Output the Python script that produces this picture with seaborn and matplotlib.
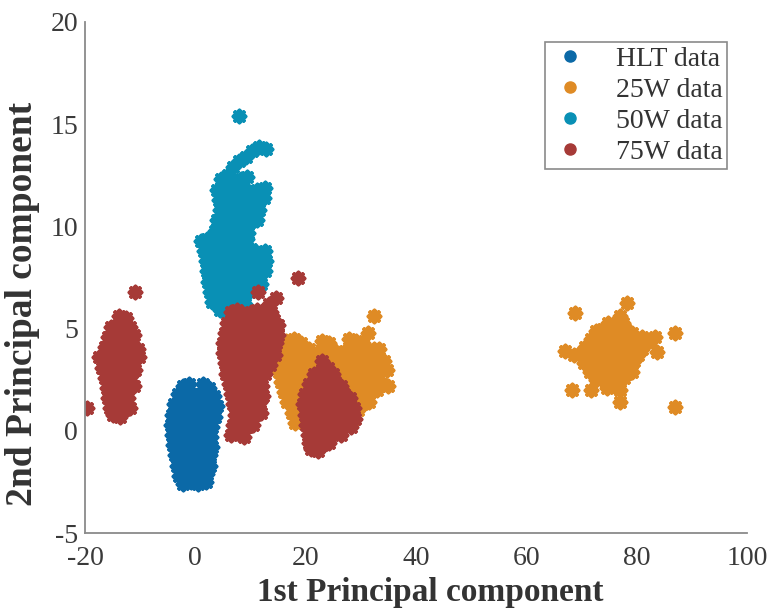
import matplotlib
matplotlib.use("Agg")
import matplotlib.pyplot as plt
from matplotlib.lines import Line2D
import numpy as np
import pandas as pd
import seaborn as sns

# ---- Principal component scores per operating condition ----
hlt_x = [-2.3, -1.2, 1.4, 2.5,
         -3.2, -1.8, -0.5, 0.8, 2.0, 3.4,
         -3.8, -2.5, -1.0, 0.3, 1.6, 2.9, 3.9,
         -4.2, -2.9, -1.6, -0.2, 1.1, 2.4, 3.5,
         -4.4, -3.0, -1.8, -0.6, 0.7, 1.9, 3.0,
         -4.3, -3.1, -1.9, -0.7, 0.6, 1.8, 2.8,
         -4.0, -2.8, -1.5, -0.3, 0.9, 2.1, 3.0,
         -3.6, -2.4, -1.1, 0.2, 1.4, 2.6,
         -3.3, -2.0, -0.7, 0.6, 1.8, 2.7,
         -3.0, -1.7, -0.4, 0.9, 2.1,
         -2.2, -0.8, 0.5, 1.9]
hlt_y = [2.2, 2.3, 2.3, 2.1,
         1.8, 1.9, 1.7, 1.8, 1.9, 1.7,
         1.3, 1.4, 1.2, 1.3, 1.4, 1.3, 1.2,
         0.8, 0.9, 0.7, 0.8, 0.9, 0.8, 0.7,
         0.3, 0.4, 0.2, 0.3, 0.4, 0.3, 0.2,
         -0.2, -0.1, -0.3, -0.2, -0.1, -0.2, -0.3,
         -0.7, -0.6, -0.8, -0.7, -0.6, -0.7, -0.8,
         -1.2, -1.1, -1.3, -1.2, -1.1, -1.2,
         -1.7, -1.6, -1.8, -1.7, -1.6, -1.7,
         -2.2, -2.1, -2.3, -2.2, -2.1,
         -2.6, -2.5, -2.6, -2.5]

w25_x = [32.3, 31.3, 33.2,
         16.5, 17.8, 19.2, 23.0, 24.2, 27.8, 29.2, 30.4,
         15.4, 16.7, 18.0, 19.3, 20.6, 22.0, 23.3, 24.6, 25.9, 27.2, 28.5, 29.8, 31.1, 32.3,
         14.8, 16.1, 17.4, 18.7, 20.0, 21.3, 22.6, 23.9, 25.2, 26.5, 27.8, 29.1, 30.4, 31.7, 33.0, 34.2,
         15.1, 16.4, 17.7, 19.0, 20.3, 21.6, 22.9, 24.2, 25.5, 26.8, 28.1, 29.4, 30.7, 32.0, 33.3, 34.8,
         15.6, 16.9, 18.2, 19.5, 20.8, 22.1, 23.4, 24.7, 26.0, 27.3, 28.6, 29.9, 31.2, 32.5, 33.8, 35.0,
         16.1, 17.4, 18.7, 20.0, 21.3, 22.6, 23.9, 25.2, 26.5, 27.8, 29.1, 30.4, 31.7, 33.0,
         16.7, 18.0, 19.3, 20.6, 25.0, 26.3, 27.6, 28.9, 30.2, 31.4,
         17.5, 18.8, 26.8, 28.1, 29.4,
         18.0, 28.4,
         77.0, 74.8, 76.2, 77.6,
         72.6, 73.9, 75.2, 76.5, 77.8, 79.1,
         71.8, 73.1, 74.4, 75.7, 77.0, 78.3, 79.6, 80.9, 82.2, 83.4,
         70.6, 71.9, 73.2, 74.5, 75.8, 77.1, 78.4, 79.7, 81.0,
         67.0, 68.6, 70.0, 71.3, 72.6, 73.9, 75.2, 76.5, 77.8, 79.1, 80.3,
         70.4, 71.7, 73.0, 74.3, 75.6, 76.9, 78.2, 79.5,
         71.5, 72.8, 74.1, 75.4, 76.7, 78.0, 79.2,
         72.6, 73.9, 75.2, 76.5, 77.7,
         74.6, 75.9, 77.0,
         68.8, 78.2, 86.9, 86.9, 68.2, 71.8, 76.9, 83.6]
w25_y = [5.6, 4.8, 4.0,
         4.4, 4.5, 4.3, 4.4, 4.3, 4.5, 4.4, 4.3,
         3.9, 4.0, 3.8, 3.9, 4.0, 3.8, 3.9, 4.0, 3.8, 3.9, 4.0, 3.8, 3.9, 4.0,
         3.4, 3.5, 3.3, 3.4, 3.5, 3.3, 3.4, 3.5, 3.3, 3.4, 3.5, 3.3, 3.4, 3.5, 3.3, 3.4,
         2.9, 3.0, 2.8, 2.9, 3.0, 2.8, 2.9, 3.0, 2.8, 2.9, 3.0, 2.8, 2.9, 3.0, 2.8, 3.0,
         2.4, 2.5, 2.3, 2.4, 2.5, 2.3, 2.4, 2.5, 2.3, 2.4, 2.5, 2.3, 2.4, 2.5, 2.3, 2.2,
         1.9, 2.0, 1.8, 1.9, 2.0, 1.8, 1.9, 2.0, 1.8, 1.9, 2.0, 1.8, 1.9, 2.0,
         1.4, 1.5, 1.3, 1.4, 1.5, 1.3, 1.4, 1.5, 1.3, 1.4,
         0.9, 1.0, 0.9, 0.8, 1.0,
         0.4, 0.5,
         5.6, 5.3, 5.2, 5.3,
         4.9, 5.0, 4.8, 4.9, 5.0, 4.8,
         4.5, 4.6, 4.4, 4.5, 4.6, 4.4, 4.5, 4.6, 4.4, 4.6,
         4.1, 4.2, 4.0, 4.1, 4.2, 4.0, 4.1, 4.2, 4.0,
         3.9, 3.7, 3.8, 3.6, 3.7, 3.8, 3.6, 3.7, 3.8, 3.6, 3.7,
         3.3, 3.4, 3.2, 3.3, 3.4, 3.2, 3.3, 3.4,
         2.9, 3.0, 2.8, 2.9, 3.0, 2.8, 2.9,
         2.5, 2.6, 2.4, 2.5, 2.6,
         2.1, 2.2, 2.0,
         5.75, 6.25, 4.8, 1.15, 2.0, 2.0, 1.4, 3.85]

w50_x = [7.9,
         12.8, 11.6, 10.3, 9.2, 8.0, 6.9, 5.9,
         4.6, 5.8, 7.0, 8.2, 9.4,
         3.9, 5.1, 6.3, 7.5, 8.7, 9.9, 11.1, 12.6,
         4.2, 5.4, 6.6, 7.8, 9.0, 10.2, 11.4, 12.4,
         4.4, 5.6, 6.8, 8.0, 9.2, 10.4, 11.6,
         3.9, 5.1, 6.3, 7.5, 8.7, 9.9, 11.2,
         3.5, 4.7, 5.9, 7.1, 8.3, 9.5,
         1.0, 2.2, 3.4, 4.6, 5.8, 7.0, 8.2, 9.4,
         1.6, 2.8, 4.0, 5.2, 6.4, 7.6, 8.8, 10.0, 11.3, 12.6,
         1.9, 3.1, 4.3, 5.5, 6.7, 7.9, 9.1, 10.3, 11.6, 12.8,
         2.1, 3.3, 4.5, 5.7, 6.9, 8.1, 9.3, 10.5, 11.7, 12.6,
         2.3, 3.5, 4.7, 5.9, 7.1, 8.3, 9.5, 10.7, 11.9,
         2.6, 3.8, 5.0, 6.2, 7.4, 8.6, 9.8,
         3.0, 4.2, 5.4, 6.6, 7.8, 9.0,
         4.5, 5.7, 6.9]
w50_y = [15.4,
         13.8, 13.9, 13.7, 13.4, 13.2, 12.9, 12.5,
         12.3, 12.4, 12.2, 12.3, 12.4,
         11.8, 11.9, 11.7, 11.8, 11.9, 11.7, 11.8, 11.9,
         11.3, 11.4, 11.2, 11.3, 11.4, 11.2, 11.3, 11.4,
         10.8, 10.9, 10.7, 10.8, 10.9, 10.7, 10.8,
         10.3, 10.4, 10.2, 10.3, 10.4, 10.2, 10.3,
         9.8, 9.9, 9.7, 9.8, 9.9, 9.7,
         9.3, 9.4, 9.2, 9.3, 9.4, 9.2, 9.3, 9.4,
         8.8, 8.9, 8.7, 8.8, 8.9, 8.7, 8.8, 8.9, 8.7, 8.8,
         8.3, 8.4, 8.2, 8.3, 8.4, 8.2, 8.3, 8.4, 8.2, 8.3,
         7.8, 7.9, 7.7, 7.8, 7.9, 7.7, 7.8, 7.9, 7.7, 7.8,
         7.3, 7.4, 7.2, 7.3, 7.4, 7.2, 7.3, 7.4, 7.2,
         6.8, 6.9, 6.7, 6.8, 6.9, 6.7, 6.8,
         6.3, 6.4, 6.2, 6.3, 6.4, 6.2,
         5.9, 5.8, 5.9]

w75_x = [-10.9, -19.6,
         -13.8, -12.6,
         -15.2, -14.0, -12.8, -11.8,
         -15.8, -14.6, -13.4, -12.2, -11.2,
         -16.3, -15.1, -13.9, -12.7, -11.5, -10.4,
         -17.4, -16.2, -15.0, -13.8, -12.6, -11.4, -10.2,
         -16.9, -15.7, -14.5, -13.3, -12.1, -10.9,
         -16.4, -15.2, -14.0, -12.8, -11.6,
         -16.0, -14.8, -13.6, -12.4, -11.2,
         -15.8, -14.6, -13.4, -12.2,
         -15.4, -14.2, -12.9, -11.9,
         -14.9, -13.6,
         18.6, 11.3, 14.6, 13.3,
         6.4, 7.6, 8.8, 10.0, 11.2, 12.4, 13.8,
         5.7, 6.9, 8.1, 9.3, 10.5, 11.7, 12.9, 14.2, 15.0,
         5.3, 6.5, 7.7, 8.9, 10.1, 11.3, 12.5, 13.7, 14.9,
         5.1, 6.3, 7.5, 8.7, 9.9, 11.1, 12.3, 13.4, 14.6,
         5.0, 6.2, 7.4, 8.6, 9.8, 11.0, 12.2, 13.5, 14.4,
         5.3, 6.5, 7.7, 8.9, 10.1, 11.3, 12.5, 13.6,
         5.6, 6.8, 8.0, 9.2, 10.4, 11.6, 12.6,
         6.1, 7.3, 8.5, 9.7, 10.9, 12.1,
         6.4, 7.6, 8.8, 10.0, 11.2, 12.2,
         6.9, 8.1, 9.3, 10.5, 11.7,
         7.2, 8.4, 9.6, 10.8, 11.9,
         6.9, 8.1, 9.3, 10.5,
         6.4, 7.6, 8.8,
         22.9, 24.0,
         21.5, 22.7, 23.9, 25.0,
         20.6, 21.8, 23.0, 24.2, 25.4, 26.4,
         19.8, 21.0, 22.2, 23.4, 24.6, 25.8, 27.0, 28.0,
         19.5, 20.7, 21.9, 23.1, 24.3, 25.5, 26.7, 27.9, 28.8,
         19.8, 21.0, 22.2, 23.4, 24.6, 25.8, 27.0, 28.2, 29.0,
         20.1, 21.3, 22.5, 23.7, 24.9, 26.1, 27.3, 28.3,
         20.4, 21.6, 22.8, 24.0, 25.2, 26.4,
         20.6, 21.8, 23.0, 24.2,
         21.0, 22.3]
w75_y = [6.8, 1.1,
         5.6, 5.5,
         5.1, 5.2, 5.0, 5.1,
         4.6, 4.7, 4.5, 4.6, 4.7,
         4.1, 4.2, 4.0, 4.1, 4.2, 4.0,
         3.6, 3.7, 3.5, 3.6, 3.7, 3.5, 3.6,
         3.1, 3.2, 3.0, 3.1, 3.2, 3.0,
         2.6, 2.7, 2.5, 2.6, 2.7,
         2.1, 2.2, 2.0, 2.1, 2.2,
         1.6, 1.7, 1.5, 1.6,
         1.1, 1.2, 1.0, 1.1,
         0.8, 0.7,
         7.5, 6.8, 6.5, 6.2,
         5.8, 5.9, 5.7, 5.8, 5.9, 5.7, 5.8,
         5.3, 5.4, 5.2, 5.3, 5.4, 5.2, 5.3, 5.4, 5.2,
         4.8, 4.9, 4.7, 4.8, 4.9, 4.7, 4.8, 4.9, 4.7,
         4.3, 4.4, 4.2, 4.3, 4.4, 4.2, 4.3, 4.4, 4.3,
         3.8, 3.9, 3.7, 3.8, 3.9, 3.7, 3.8, 3.9, 3.7,
         3.3, 3.4, 3.2, 3.3, 3.4, 3.2, 3.3, 3.2,
         2.8, 2.9, 2.7, 2.8, 2.9, 2.7, 2.8,
         2.3, 2.4, 2.2, 2.3, 2.4, 2.2,
         1.8, 1.9, 1.7, 1.8, 1.9, 1.7,
         1.3, 1.4, 1.2, 1.3, 1.4,
         0.8, 0.9, 0.7, 0.8, 0.9,
         0.3, 0.4, 0.2, 0.3,
         -0.2, -0.1, -0.3,
         3.4, 3.1,
         2.8, 2.9, 2.7, 2.8,
         2.3, 2.4, 2.2, 2.3, 2.4, 2.2,
         1.8, 1.9, 1.7, 1.8, 1.9, 1.7, 1.8, 1.6,
         1.3, 1.4, 1.2, 1.3, 1.4, 1.2, 1.3, 1.4, 1.1,
         0.8, 0.9, 0.7, 0.8, 0.9, 0.7, 0.8, 0.9, 0.6,
         0.3, 0.4, 0.2, 0.3, 0.4, 0.2, 0.3, 0.2,
         -0.2, -0.1, -0.3, -0.2, -0.1, -0.2,
         -0.6, -0.5, -0.7, -0.6,
         -0.9, -1.0]

series_names = ["HLT data", "25W data", "50W data", "75W data"]
series_colors = ["#0b69a7", "#df8b25", "#0990b5", "#a63a37"]
series_x = [hlt_x, w25_x, w50_x, w75_x]
series_y = [hlt_y, w25_y, w50_y, w75_y]

x_ticks = [-20, 0, 20, 40, 60, 80, 100]
y_ticks = [-5, 0, 5, 10, 15, 20]

frames = []
for name, xs, ys in zip(series_names, series_x, series_y):
    frames.append(pd.DataFrame({"pc1": xs, "pc2": ys, "set": name}))
df = pd.concat(frames, ignore_index=True)

sns.set_style("white")
plt.rcParams["font.family"] = ["Liberation Serif", "DejaVu Serif"]

fig = plt.figure(figsize=(7.68, 6.10), dpi=100)
ax = fig.add_axes([0.1107, 0.126, 0.862, 0.838])

for name, col in zip(series_names, series_colors):
    sub = df[df["set"] == name]
    sns.scatterplot(data=sub, x="pc1", y="pc2", ax=ax, color=col,
                    marker=(8, 2, 0), s=70, linewidth=3.0, legend=False,
                    zorder=2)

ax.set_xlim(-20, 100)
ax.set_ylim(-5, 20)
ax.set_xticks(x_ticks)
ax.set_yticks(y_ticks)
ax.set_xticklabels([str(t) for t in x_ticks])
ax.set_yticklabels([str(t) for t in y_ticks])

spine_col = "#8a8a8a"
for side in ["top", "right"]:
    ax.spines[side].set_visible(False)
for side in ["left", "bottom"]:
    ax.spines[side].set_color(spine_col)
    ax.spines[side].set_linewidth(1.3)
ax.tick_params(axis="both", direction="in", length=6, width=1.2,
               color=spine_col, labelsize=20, labelcolor="#3a3a3a", pad=5)
ax.tick_params(axis="x", pad=9)

ax.set_xlabel("1st Principal component", fontsize=24, fontweight="bold",
              color="#333333")
ax.set_ylabel("2nd Principal component", fontsize=27, fontweight="bold",
              color="#333333")
ax.xaxis.set_label_coords(0.521, -0.086)
ax.yaxis.set_label_coords(-0.068, 0.448)

handles = [Line2D([0], [0], marker="o", linestyle="none", markersize=8,
                  markerfacecolor=c, markeredgecolor=c) for c in series_colors]
leg = ax.legend(handles, series_names, loc="upper right",
                bbox_to_anchor=(0.970, 0.961), borderaxespad=0,
                fontsize=20, frameon=True,
                fancybox=False, edgecolor="#8a8a8a", framealpha=1,
                handletextpad=0.95, borderpad=0.15, labelspacing=0.2,
                handlelength=1.45)
leg.get_frame().set_linewidth(1.2)
for t in leg.get_texts():
    t.set_color("#333333")

fig.savefig("out.png", dpi=100)
